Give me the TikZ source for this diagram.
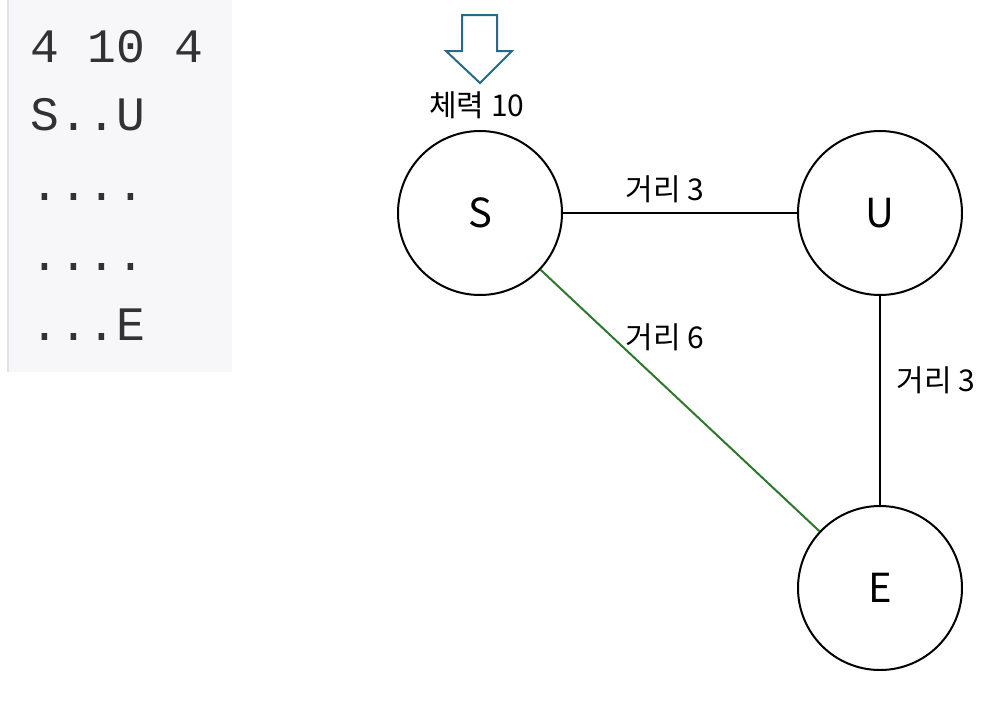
\documentclass[tikz,border=0pt]{standalone}
\usepackage{fontspec}
\setmainfont{Noto Sans CJK KR}
\newfontfamily\codefont{Liberation Mono}
\definecolor{codebg}{RGB}{247,247,250}
\definecolor{codeborder}{RGB}{225,225,230}
\definecolor{codetext}{RGB}{50,50,50}
\definecolor{edgegreen}{RGB}{45,120,45}
\definecolor{arrowblue}{RGB}{40,105,135}
\begin{document}
\begin{tikzpicture}[x=1pt,y=-1pt,
  vertex/.style={circle,draw=black,line width=2pt,minimum size=164pt,inner sep=0pt,font=\fontsize{40}{44}\selectfont},
  edgeline/.style={line width=2pt},
  lbl/.style={inner sep=0pt,font=\fontsize{30}{33}\selectfont},
  codeline/.style={anchor=base west,inner sep=0pt,text=codetext,font=\codefont\fontsize{48}{50}\selectfont}]
\useasboundingbox (0,0) rectangle (1002,710);
% code panel
\fill[codebg] (7,0) rectangle (232,372);
\draw[codeborder,line width=1.5pt] (8,0) -- (8,372);
\node[codeline] (c1) at (30,62) {4 10 4};
\node[codeline] (c2) at (30,130) {S..U};
\node[codeline] (c3) at (30,200) {....};
\node[codeline] (c4) at (30,270) {....};
\node[codeline] (c5) at (30,340) {...E};
% graph
\node[vertex] (S) at (480,213) {S};
\node[vertex] (U) at (880,213) {U};
\node[vertex] (E) at (880,588) {E};
\draw[edgeline] (S) -- (U);
\draw[edgeline] (U) -- (E);
\draw[edgeline,edgegreen] (S) -- (E);
\node[lbl] (l1) at (665,189) {거리 3};
\node[lbl] (l2) at (665,337) {거리 6};
\node[lbl] (l3) at (936,380) {거리 3};
\node[lbl] (hp) at (477,105) {체력 10};
% down arrow
\draw[arrowblue,line width=2pt,line join=miter]
  (462,15) -- (497,15) -- (497,51) -- (512,51) -- (480,83) -- (446,51) -- (462,51) -- cycle;
\end{tikzpicture}
\end{document}
